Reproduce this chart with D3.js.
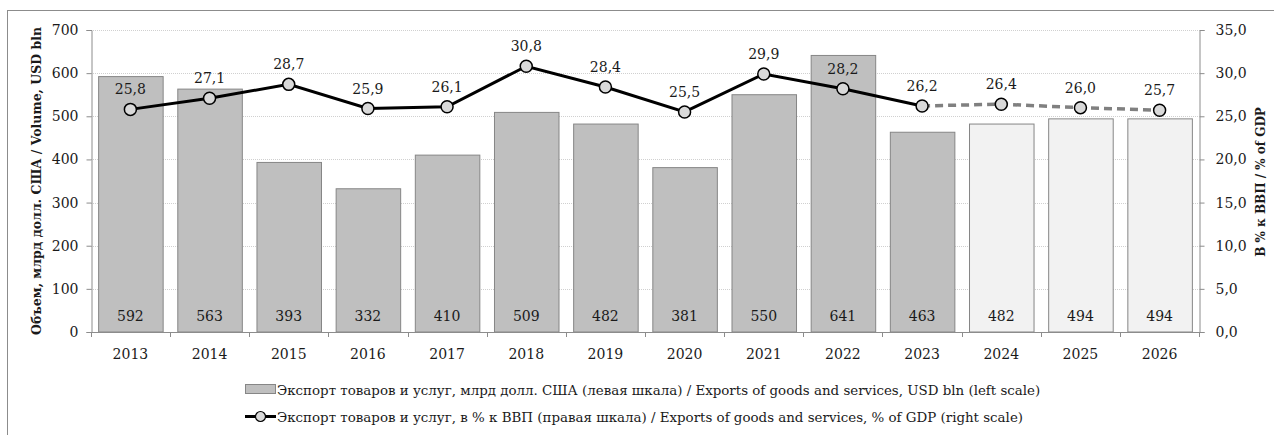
<!DOCTYPE html>
<html>
<head>
<meta charset="utf-8">
<script src="https://cdn.jsdelivr.net/npm/d3@7"></script>
<style>
  body { margin: 0; background: #fff; }
  svg text { font-family: "DejaVu Serif", serif; fill: #1a1a1a; }
</style>
</head>
<body>
<div id="chart"></div>
<script>
// --------------- Data ---------------
const years = ["2013", "2014", "2015", "2016", "2017", "2018", "2019",
  "2020", "2021", "2022", "2023", "2024", "2025", "2026"];
const exportsUsd = [592, 563, 393, 332, 410, 509, 482, 381, 550, 641, 463, 482, 494, 494];
const exportsGdp = [25.8, 27.1, 28.7, 25.9, 26.1, 30.8, 28.4, 25.5, 29.9, 28.2, 26.2, 26.4, 26.0, 25.7];
const lastActual = "2023";
const leftTicks = [0, 100, 200, 300, 400, 500, 600, 700];
const rightTicks = [0, 5, 10, 15, 20, 25, 30, 35];
const legendLabels = [
  "Экспорт товаров и услуг, млрд долл. США (левая шкала) /  Exports of goods and services, USD bln (left scale)",
  "Экспорт товаров и услуг, в % к ВВП (правая шкала) / Exports of goods and services, % of GDP (right scale)"
];
const leftTitle = "Объем, млрд долл. США / Volume, USD bln";
const rightTitle = "В % к ВВП  / % of GDP";

const WIDTH = 1274;
const HEIGHT = 435;
const M = { left: 91, right: 1199, top: 30, bottom: 332 };
const AXIS_COLOR = "#8c8c8c";
const fmt = v => d3.format(".1f")(v).replace(".", ",");

const svg = d3.select("#chart").append("svg")
  .attr("width", WIDTH)
  .attr("height", HEIGHT);

// outer frame
svg.append("rect")
  .attr("x", 7.5).attr("y", 10.5)
  .attr("width", WIDTH).attr("height", HEIGHT)
  .attr("fill", "none").attr("stroke", "#8c8c8c");

// --------------- Scales ---------------
const x = d3.scaleBand().domain(years).range([M.left, M.right]).paddingInner(0.185).paddingOuter(0.09);
const yL = d3.scaleLinear().domain([0, 700]).range([M.bottom, M.top]);
const yR = d3.scaleLinear().domain([0, 35]).range([M.bottom, M.top]);
const isForecast = y => +y > +lastActual;

// gridlines
svg.append("g").selectAll("line")
  .data(leftTicks.slice(1))
  .join("line")
  .attr("x1", M.left).attr("x2", M.right)
  .attr("y1", d => Math.round(yL(d)) + 0.5).attr("y2", d => Math.round(yL(d)) + 0.5)
  .attr("stroke", "#d0d0d0").attr("stroke-dasharray", "1,1");

// --------------- Bars ---------------
const rows = years.map((y, i) => ({ year: y, usd: exportsUsd[i], gdp: exportsGdp[i] }));

svg.append("g").selectAll("rect")
  .data(rows)
  .join("rect")
  .attr("x", d => x(d.year) + 0.5)
  .attr("y", d => yL(d.usd))
  .attr("width", x.bandwidth())
  .attr("height", d => yL(0) - yL(d.usd))
  .attr("fill", d => isForecast(d.year) ? "#f2f2f2" : "#bfbfbf")
  .attr("stroke", "#868686");

svg.append("g").selectAll("text")
  .data(rows)
  .join("text")
  .attr("x", d => x(d.year) + x.bandwidth() / 2)
  .attr("y", yL(0) - 11)
  .attr("text-anchor", "middle")
  .attr("font-size", 14)
  .text(d => d.usd);

// --------------- Axes ---------------
const xAxisPos = d3.scaleLinear().domain([0, years.length]).range([M.left, M.right]);
const axisG = svg.append("g").attr("stroke", AXIS_COLOR);
axisG.append("line").attr("x1", M.left).attr("x2", M.right)
  .attr("y1", M.bottom + 0.5).attr("y2", M.bottom + 0.5);
axisG.selectAll(".xt").data(d3.range(years.length + 1)).join("line")
  .attr("x1", d => Math.round(xAxisPos(d)) + 0.5).attr("x2", d => Math.round(xAxisPos(d)) + 0.5)
  .attr("y1", M.bottom).attr("y2", M.bottom + 5);

const leftAxis = svg.append("g")
  .attr("transform", `translate(${M.left + 0.5},0)`)
  .call(d3.axisLeft(yL).tickValues(leftTicks).tickSize(5).tickPadding(8));
const rightAxis = svg.append("g")
  .attr("transform", `translate(${M.right + 0.5},0)`)
  .call(d3.axisRight(yR).tickValues(rightTicks).tickSize(5).tickPadding(11).tickFormat(fmt));
[leftAxis, rightAxis].forEach(a => {
  a.selectAll("path, line").attr("stroke", AXIS_COLOR);
  a.selectAll("text").attr("font-size", 14).attr("font-family", "DejaVu Serif").attr("fill", "#1a1a1a");
});

svg.append("g").selectAll("text")
  .data(years)
  .join("text")
  .attr("x", d => x(d) + x.bandwidth() / 2)
  .attr("y", 359)
  .attr("text-anchor", "middle")
  .attr("font-size", 14)
  .text(d => d);

// axis titles
svg.append("text")
  .attr("transform", `translate(41,181) rotate(-90)`)
  .attr("text-anchor", "middle")
  .attr("font-size", 12.5).attr("font-weight", "bold")
  .text(leftTitle);
svg.append("text")
  .attr("transform", `translate(1265,182) rotate(-90)`)
  .attr("text-anchor", "middle")
  .attr("font-size", 12).attr("font-weight", "bold")
  .text(rightTitle);

// --------------- Line ---------------
const cx = d => x(d.year) + x.bandwidth() / 2;
const line = d3.line().x(cx).y(d => yR(d.gdp));
const cut = years.indexOf(lastActual);

svg.append("path")
  .datum(rows.slice(cut))
  .attr("d", line)
  .attr("fill", "none")
  .attr("stroke", "#808080")
  .attr("stroke-width", 3.5)
  .attr("stroke-dasharray", "8,5");
svg.append("path")
  .datum(rows.slice(0, cut + 1))
  .attr("d", line)
  .attr("fill", "none")
  .attr("stroke", "#000")
  .attr("stroke-width", 3);

svg.append("g").selectAll("circle")
  .data(rows)
  .join("circle")
  .attr("cx", cx)
  .attr("cy", d => yR(d.gdp))
  .attr("r", 6)
  .attr("fill", "#d9d9d9")
  .attr("stroke", "#000")
  .attr("stroke-width", 1.5);

svg.append("g").selectAll("text")
  .data(rows)
  .join("text")
  .attr("x", cx)
  .attr("y", d => yR(d.gdp) - 15)
  .attr("text-anchor", "middle")
  .attr("font-size", 14)
  .text(d => fmt(d.gdp));

// --------------- Legend ---------------
const lg = svg.append("g");
lg.append("rect")
  .attr("x", 245.5).attr("y", 384.5).attr("width", 30).attr("height", 9)
  .attr("fill", "#bfbfbf").attr("stroke", "#868686");
lg.append("text").attr("x", 277).attr("y", 395).attr("font-size", 13.4).text(legendLabels[0]);
lg.append("line")
  .attr("x1", 245).attr("x2", 276).attr("y1", 416.5).attr("y2", 416.5)
  .attr("stroke", "#000").attr("stroke-width", 3);
lg.append("circle")
  .attr("cx", 260.5).attr("cy", 416.5).attr("r", 5)
  .attr("fill", "#d9d9d9").attr("stroke", "#000").attr("stroke-width", 1.2);
lg.append("text").attr("x", 277).attr("y", 422).attr("font-size", 13.4).text(legendLabels[1]);
</script>
</body>
</html>
